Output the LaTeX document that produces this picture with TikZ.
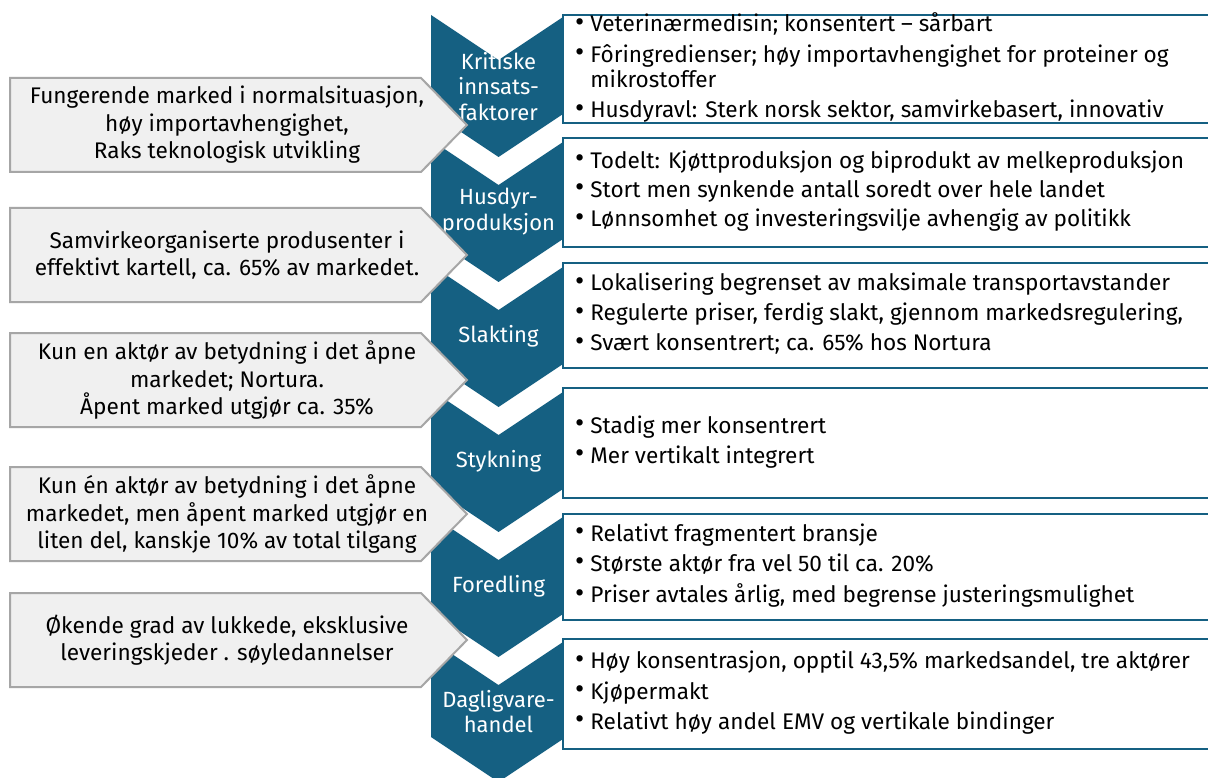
\documentclass[tikz,border=0pt]{standalone}
\usepackage{fontspec}
\setmainfont{Fira Sans}
\definecolor{chevblue}{HTML}{156082}
\definecolor{callfill}{HTML}{F0F0F0}
\definecolor{callline}{HTML}{A6A6A6}
\tikzset{
  chevshape/.style={fill=chevblue, draw=none},
  chevtext/.style={text=white, align=center, inner sep=0pt, font=\fontsize{22}{25.5}\selectfont},
  callshape/.style={fill=callfill, draw=callline, line width=2pt, line join=miter},
  calltext/.style={text=black, align=center, inner sep=0pt, font=\fontsize{22.6}{27.5}\selectfont},
  boxshape/.style={fill=white, draw=chevblue, line width=2pt},
  boxtext/.style={text=black, anchor=west, inner sep=0pt, font=\fontsize{22.6}{25}\selectfont},
}
\newcommand\bul{\raisebox{0.5pt}{\scalebox{1.25}{\textbullet}}}
\newcommand\mychev[3]{%
  \path[chevshape] (431,#1) -- (498.5,#1+45) -- (566,#1) -- (566,#1+97) -- (498.5,#1+142) -- (431,#1+97) -- cycle;
  \node[chevtext] (#2) at (498.5,#1+71.5) {#3};
}
\newcommand\mycall[3]{%
  \path[callshape] (10,#1) -- (421,#1) -- (467,#1+47) -- (421,#1+94) -- (10,#1+94) -- cycle;
  \node[calltext] (#2) at (227,#1+47) {#3};
}
\newcommand\mybox[4]{%
  \path[boxshape] (563,#1) rectangle (1210,#2);
  \node[boxtext] (#3) at (575,{(#1+#2)/2}) {\begin{tabular}{@{}l@{\hspace{6pt}}l@{}}#4\end{tabular}};
}
\begin{document}
\begin{tikzpicture}[x=1pt,y=-1pt]
\useasboundingbox (0,0) rectangle (1208,778);
\clip (0,0) rectangle (1208,778);
\fill[white] (0,0) rectangle (1208,778);
% chevrons
\mychev{15}{c1}{Kritiske\\innsats-\\faktorer}
\mychev{140}{c2}{Husdyr-\\produksjon}
\mychev{265}{c3}{Slakting}
\mychev{390}{c4}{Stykning}
\mychev{515}{c5}{Foredling}
\mychev{640}{c6}{Dagligvare-\\handel}
% right boxes
\mybox{15}{123}{t1}{\bul & Veterinærmedisin; konsentert – sårbart\\[5pt]
\bul & Fôringredienser; høy importavhengighet for proteiner og\\
 & mikrostoffer\\[5pt]
\bul & Husdyravl: Sterk norsk sektor, samvirkebasert, innovativ}
\mybox{138}{247}{t2}{\bul & Todelt: Kjøttproduksjon og biprodukt av melkeproduksjon\\[4pt]
\bul & Stort men synkende antall soredt over hele landet\\[4pt]
\bul & Lønnsomhet og investeringsvilje avhengig av politikk}
\mybox{263}{368}{t3}{\bul & Lokalisering begrenset av maksimale transportavstander\\[5pt]
\bul & Regulerte priser, ferdig slakt, gjennom markedsregulering,\\[5pt]
\bul & Svært konsentrert; ca. 65\% hos Nortura}
\mybox{388}{498}{t4}{\bul & Stadig mer konsentrert\\[5pt]
\bul & Mer vertikalt integrert}
\mybox{514}{620}{t5}{\bul & Relativt fragmentert bransje\\[5pt]
\bul & Største aktør fra vel 50 til ca. 20\%\\[5pt]
\bul & Priser avtales årlig, med begrense justeringsmulighet}
\mybox{639}{749}{t6}{\bul & Høy konsentrasjon, opptil 43,5\% markedsandel, tre aktører\\[5pt]
\bul & Kjøpermakt\\[5pt]
\bul & Relativt høy andel EMV og vertikale bindinger}
% callouts
\mycall{78}{l1}{Fungerende marked i normalsituasjon,\\høy importavhengighet,\\Raks teknologisk utvikling}
\mycall{208}{l2}{Samvirkeorganiserte produsenter i\\effektivt kartell, ca. 65\% av markedet.}
\mycall{333}{l3}{Kun en aktør av betydning i det åpne\\markedet; Nortura.\\Åpent marked utgjør ca. 35\%}
\mycall{467}{l4}{Kun én aktør av betydning i det åpne\\markedet, men åpent marked utgjør en\\liten del, kanskje 10\% av total tilgang}
\mycall{593}{l5}{Økende grad av lukkede, eksklusive\\leveringskjeder . søyledannelser}
\end{tikzpicture}
\end{document}
